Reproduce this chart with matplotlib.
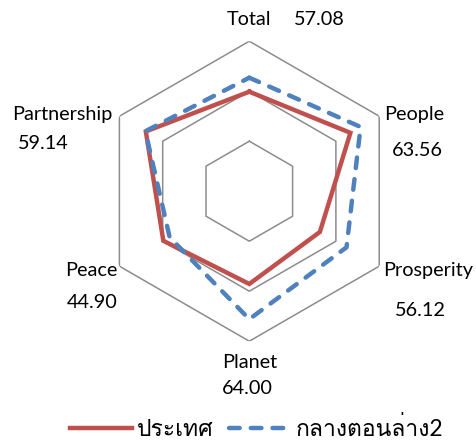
import numpy as np
import matplotlib
matplotlib.use("Agg")
import matplotlib.pyplot as plt
from matplotlib import font_manager
from matplotlib.ft2font import FT2Font

# category names and the scores printed next to them
categories = ['Total', 'People', 'Prosperity', 'Planet', 'Peace', 'Partnership']
scores = ['57.08', '63.56', '56.12', '64.00', '44.90', '59.14']

country = [39.8, 46.7, 32.6, 37.1, 39.7, 47.8]
region = [45.4, 51.4, 44.9, 51.2, 36.8, 48.0]
series_names = ['ประเทศ', 'กลางตอนล่าง2']

rings = [20, 40, 60]

RED = '#C0504D'
BLUE = '#4F81BD'
GRID = '#8C8C8C'


def thai_families():
    # look for any installed font that carries Thai glyphs
    found = []
    for f in font_manager.fontManager.ttflist:
        try:
            cmap = FT2Font(f.fname).get_charmap()
        except Exception:
            continue
        if 0x0E01 in cmap and 0x0E28 in cmap and f.name not in found:
            found.append(f.name)
    return found


thai = thai_families()
plt.rcParams['font.family'] = ['Lato'] + thai + ['DejaVu Sans']

n = len(categories)
theta = np.arange(n) * 2 * np.pi / n
theta_c = np.append(theta, theta[0])

fig = plt.figure(figsize=(4.77, 4.43), dpi=100)
ax = fig.add_axes([99.3 / 477, (443 - 191.2 - 150) / 443, 300 / 477, 300 / 443],
                  projection='polar')
ax.set_theta_offset(np.pi / 2)
ax.set_theta_direction(-1)
ax.set_ylim(0, rings[-1])
ax.grid(False)
ax.set_xticks([])
ax.set_yticks([])
ax.spines['polar'].set_visible(False)
ax.patch.set_alpha(0)

# hexagon gridlines
for r in rings:
    ax.plot(theta_c, [r] * (n + 1), color=GRID, lw=1.1, zorder=1)

ax.plot(theta_c, country + country[:1], color=RED, lw=3.2,
        solid_joinstyle='miter', zorder=3, label=series_names[0])
ax.plot(theta_c, region + region[:1], color=BLUE, lw=3.2, dashes=(2.4, 2.5),
        dash_capstyle='round', zorder=4, label=series_names[1])

# label offsets (pixels) from each outer vertex: (name, score)
name_off = [(0, 22), (35, 2), (49, -4), (0, -21), (-28, -4), (-57, 2)]
score_off = [(70, 22), (38, -34), (41, -44), (-2, -47), (-27, -36), (-76, -27)]
for t, name, sc, no, so in zip(theta, categories, scores, name_off, score_off):
    ax.annotate(name, xy=(t, rings[-1]), xytext=no, textcoords='offset pixels',
                ha='center', va='center', fontsize=14.3, annotation_clip=False)
    ax.annotate(sc, xy=(t, rings[-1]), xytext=so, textcoords='offset pixels',
                ha='center', va='center', fontsize=14.3, annotation_clip=False)

fig.legend(loc='lower center', bbox_to_anchor=(0.538, -0.04), ncol=2, frameon=False,
           fontsize=16.5, handlelength=2.7, handletextpad=0.22, columnspacing=0.65)

fig.savefig('out.png', dpi=100)
